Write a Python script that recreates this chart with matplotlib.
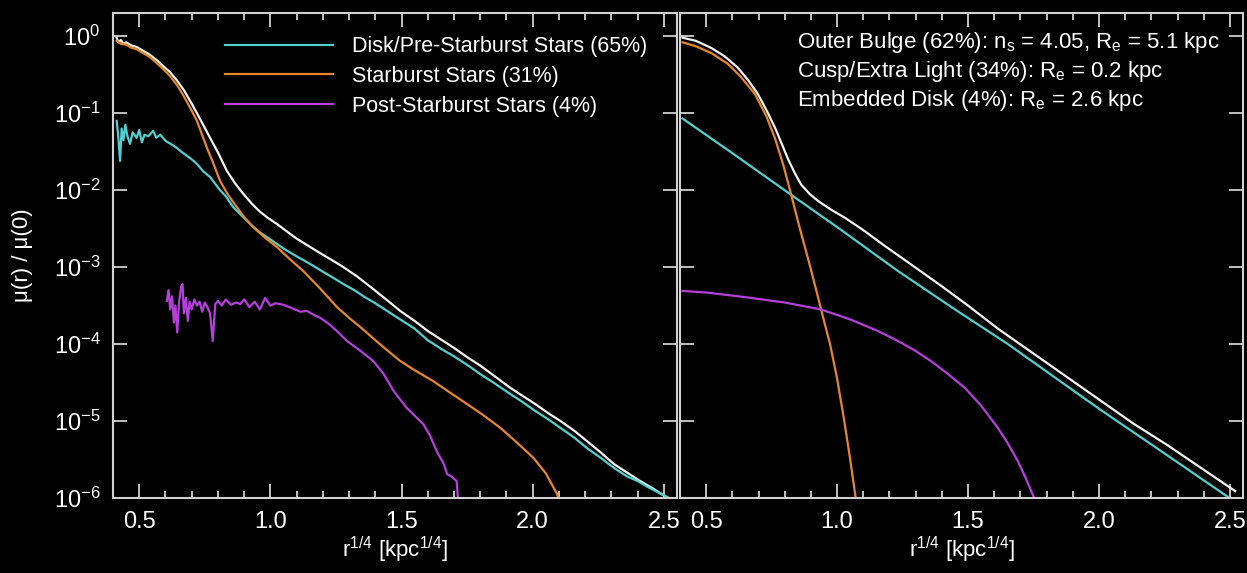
import numpy as np
import matplotlib
matplotlib.use('Agg')
import matplotlib.pyplot as plt
from matplotlib.ticker import MultipleLocator, NullLocator

plt.rcParams['font.family'] = ['Liberation Sans', 'DejaVu Sans']
plt.rcParams['mathtext.fontset'] = 'custom'
plt.rcParams['mathtext.rm'] = 'Liberation Sans'
plt.rcParams['mathtext.it'] = 'Liberation Sans:italic'
plt.rcParams['mathtext.default'] = 'regular'

# --- left panel: measured profiles, x = r^(1/4), y = log10 mu(r)/mu(0)
tot_x = [0.414, 0.42, 0.43, 0.44, 0.45, 0.47, 0.49, 0.515, 0.54, 0.57, 0.595, 0.618, 0.645, 0.67,
         0.694, 0.72, 0.745, 0.77, 0.80, 0.834, 0.865, 0.897, 0.93, 0.96, 0.99, 1.025, 1.06, 1.10,
         1.152, 1.20, 1.24, 1.278, 1.33, 1.39, 1.445, 1.495, 1.55, 1.60, 1.65, 1.70, 1.75, 1.80,
         1.86, 1.915, 1.96, 2.01, 2.06, 2.106, 2.16, 2.21, 2.26, 2.31, 2.36, 2.41, 2.46, 2.514, 2.53]
tot_y = [-0.02, -0.08, -0.05, -0.10, -0.08, -0.12, -0.14, -0.19, -0.24, -0.32, -0.40, -0.47, -0.58, -0.70,
         -0.84, -1.00, -1.16, -1.32, -1.51, -1.75, -1.91, -2.05, -2.18, -2.28, -2.36, -2.44, -2.53, -2.63,
         -2.74, -2.84, -2.92, -3.00, -3.12, -3.28, -3.43, -3.57, -3.70, -3.83, -3.94, -4.05, -4.17, -4.28,
         -4.43, -4.57, -4.67, -4.78, -4.90, -5.00, -5.13, -5.27, -5.41, -5.56, -5.67, -5.78, -5.88, -6.00, -6.05]

disk_x = [0.414, 0.42, 0.427, 0.433, 0.44, 0.447, 0.455, 0.465, 0.475, 0.49, 0.50, 0.51, 0.52, 0.535,
          0.553, 0.565, 0.58, 0.60, 0.62, 0.643, 0.66, 0.68, 0.70, 0.72, 0.745, 0.77, 0.79, 0.808,
          0.83, 0.858, 0.89, 0.923, 0.96, 1.00, 1.025, 1.06, 1.10, 1.152, 1.20, 1.24, 1.278, 1.32,
          1.36, 1.40, 1.445, 1.495, 1.55, 1.60, 1.65, 1.70, 1.75, 1.80, 1.85, 1.915, 1.96, 2.01,
          2.06, 2.106, 2.16, 2.21, 2.26, 2.31, 2.36, 2.40, 2.44, 2.48, 2.52, 2.54]
disk_y = [-1.10, -1.30, -1.62, -1.20, -1.35, -1.15, -1.30, -1.40, -1.25, -1.32, -1.22, -1.38, -1.28, -1.30,
          -1.23, -1.32, -1.28, -1.36, -1.40, -1.45, -1.50, -1.55, -1.60, -1.66, -1.76, -1.83, -1.92, -2.00,
          -2.08, -2.22, -2.33, -2.44, -2.55, -2.64, -2.70, -2.78, -2.86, -2.96, -3.06, -3.14, -3.22, -3.30,
          -3.39, -3.47, -3.57, -3.68, -3.80, -3.95, -4.06, -4.16, -4.27, -4.39, -4.50, -4.65, -4.75, -4.87,
          -4.98, -5.09, -5.22, -5.36, -5.48, -5.61, -5.72, -5.78, -5.86, -5.93, -6.00, -6.05]

sb_x = [0.414, 0.43, 0.45, 0.47, 0.49, 0.515, 0.54, 0.57, 0.595, 0.618, 0.645, 0.67, 0.694, 0.72,
        0.758, 0.78, 0.808, 0.84, 0.872, 0.90, 0.934, 0.98, 1.025, 1.075, 1.125, 1.19, 1.254, 1.30,
        1.35, 1.40, 1.445, 1.495, 1.55, 1.62, 1.68, 1.75, 1.81, 1.877, 1.94, 2.003, 2.05, 2.093, 2.105]
sb_y = [-0.06, -0.10, -0.11, -0.15, -0.17, -0.22, -0.27, -0.36, -0.44, -0.52, -0.64, -0.78, -0.93, -1.10,
        -1.45, -1.63, -1.88, -2.07, -2.22, -2.35, -2.48, -2.62, -2.74, -2.90, -3.05, -3.28, -3.52, -3.66,
        -3.80, -3.95, -4.08, -4.22, -4.34, -4.48, -4.62, -4.78, -4.92, -5.09, -5.28, -5.48, -5.68, -5.95, -6.10]

psb_x = [0.605, 0.612, 0.618, 0.625, 0.632, 0.638, 0.645, 0.652, 0.66, 0.665, 0.67, 0.678, 0.685, 0.692,
         0.70, 0.71, 0.72, 0.73, 0.74, 0.75, 0.76, 0.77, 0.78, 0.79, 0.80, 0.815, 0.83, 0.85, 0.87,
         0.885, 0.90, 0.92, 0.94, 0.96, 0.98, 1.00, 1.02, 1.05, 1.08, 1.114, 1.14, 1.165, 1.19, 1.22,
         1.25, 1.292, 1.34, 1.392, 1.43, 1.47, 1.49, 1.52, 1.55, 1.583, 1.61, 1.635, 1.66, 1.674, 1.69,
         1.71, 1.717]
psb_y = [-3.44, -3.30, -3.55, -3.38, -3.72, -3.50, -3.85, -3.45, -3.25, -3.22, -3.60, -3.40, -3.70, -3.45,
         -3.55, -3.42, -3.50, -3.45, -3.58, -3.46, -3.52, -3.60, -3.96, -3.48, -3.44, -3.50, -3.42, -3.49, -3.46,
         -3.48, -3.42, -3.52, -3.45, -3.55, -3.40, -3.50, -3.47, -3.49, -3.53, -3.58, -3.57, -3.62, -3.66, -3.73,
         -3.82, -3.96, -4.08, -4.22, -4.38, -4.61, -4.70, -4.83, -4.93, -5.04, -5.20, -5.40, -5.55, -5.69, -5.72,
         -5.78, -6.10]

# --- right panel: fitted components
fit_tot_x = [0.41, 0.46, 0.518, 0.57, 0.621, 0.66, 0.697, 0.73, 0.763, 0.79, 0.813, 0.84, 0.863, 0.895,
             0.927, 0.975, 1.03, 1.10, 1.18, 1.28, 1.40, 1.50, 1.614, 1.74, 1.87, 2.00, 2.13, 2.26, 2.39, 2.52]
fit_tot_y = [-0.02, -0.06, -0.15, -0.26, -0.41, -0.57, -0.75, -0.96, -1.19, -1.41, -1.60, -1.79, -1.93, -2.05,
             -2.14, -2.25, -2.36, -2.52, -2.72, -2.96, -3.25, -3.50, -3.80, -4.10, -4.41, -4.72, -5.03, -5.31,
             -5.61, -5.91]

bulge_x = [0.41, 0.60, 0.824, 1.00, 1.232, 1.45, 1.652, 2.00, 2.25, 2.52]
bulge_y = [-1.07, -1.52, -2.06, -2.48, -3.05, -3.55, -4.00, -4.84, -5.42, -6.05]

cusp_x = [0.41, 0.46, 0.52, 0.583, 0.63, 0.686, 0.73, 0.763, 0.795, 0.824, 0.85, 0.877, 0.90, 0.927,
          0.95, 0.973, 1.00, 1.025, 1.05, 1.075]
cusp_y = [-0.08, -0.13, -0.22, -0.36, -0.52, -0.75, -1.04, -1.33, -1.68, -2.05, -2.40, -2.74, -3.03, -3.39,
          -3.70, -4.00, -4.45, -4.95, -5.50, -6.10]

edisk_x = [0.41, 0.50, 0.648, 0.80, 0.938, 1.05, 1.156, 1.232, 1.30, 1.358, 1.42, 1.488, 1.55, 1.614,
           1.65, 1.69, 1.72, 1.755]
edisk_y = [-3.31, -3.33, -3.39, -3.46, -3.55, -3.68, -3.83, -3.96, -4.09, -4.22, -4.38, -4.57, -4.80, -5.09,
           -5.28, -5.52, -5.74, -6.02]

yticks = [1e-6, 1e-5, 1e-4, 1e-3, 1e-2, 1e-1, 1e0]
legend_labels = ['Disk/Pre-Starburst Stars (65%)', 'Starburst Stars (31%)', 'Post-Starburst Stars (4%)']
fit_text = ['Outer Bulge (62%): n$_s$ = 4.05, R$_e$ = 5.1 kpc',
            'Cusp/Extra Light (34%): R$_e$ = 0.2 kpc',
            'Embedded Disk (4%): R$_e$ = 2.6 kpc']

c_tot = '#f2f2f2'
c_disk = '#52d0d0'
c_sb = '#e8862c'
c_psb = '#b53fdc'
c_axis = '#d0d0d0'

fig = plt.figure(figsize=(12.47, 5.73), dpi=100, facecolor='black')
ax1 = fig.add_axes([113/1247, 75/573, 564/1247, 485/573])
ax2 = fig.add_axes([680/1247, 75/573, 563/1247, 485/573])

for ax in (ax1, ax2):
    ax.set_facecolor('black')
    ax.set_yscale('log')
    ax.set_xlim(0.4, 2.55)
    ax.set_ylim(1e-6, 2)
    ax.set_yticks(yticks)
    ax.xaxis.set_major_locator(MultipleLocator(0.5))
    ax.xaxis.set_minor_locator(MultipleLocator(0.1))
    ax.yaxis.set_minor_locator(NullLocator())
    ax.tick_params(which='both', direction='in', top=True, right=True, colors=c_axis,
                   labelcolor='white', width=1.3)
    ax.tick_params(which='major', length=10, labelsize=17, pad=9)
    ax.tick_params(which='minor', length=5)
    for s in ax.spines.values():
        s.set_color(c_axis)
        s.set_linewidth(1.5)
    ax.set_xlabel('r$^{1/4}$ [kpc$^{1/4}$]', color='white', fontsize=16)
    ax.xaxis.set_label_coords(0.5, -0.075)

lw = 1.6
ax1.plot(tot_x, 10**np.array(tot_y), color=c_tot, lw=lw)
ax1.plot(disk_x, 10**np.array(disk_y), color=c_disk, lw=lw, label=legend_labels[0])
ax1.plot(sb_x, 10**np.array(sb_y), color=c_sb, lw=lw, label=legend_labels[1])
ax1.plot(psb_x, 10**np.array(psb_y), color=c_psb, lw=lw, label=legend_labels[2])
ax1.set_ylabel('μ(r) / μ(0)', color='white', fontsize=16)
ax1.yaxis.set_label_coords(-0.142, 0.5)
leg = ax1.legend(loc='upper left', bbox_to_anchor=(0.199, 0.952), frameon=False, fontsize=15.5,
                 handlelength=5.0, handletextpad=0.9, labelspacing=0.4, borderpad=0, borderaxespad=0)
for t in leg.get_texts():
    t.set_color('white')

ax2.plot(fit_tot_x, 10**np.array(fit_tot_y), color=c_tot, lw=lw)
ax2.plot(bulge_x, 10**np.array(bulge_y), color=c_disk, lw=lw)
ax2.plot(cusp_x, 10**np.array(cusp_y), color=c_sb, lw=lw)
ax2.plot(edisk_x, 10**np.array(edisk_y), color=c_psb, lw=lw)
ax2.tick_params(labelleft=False)
for i, s in enumerate(fit_text):
    ax2.text(0.208, 0.940 - i*0.060, s, transform=ax2.transAxes, color='white', fontsize=16, va='center')

plt.savefig('out.png', dpi=100, facecolor='black')
